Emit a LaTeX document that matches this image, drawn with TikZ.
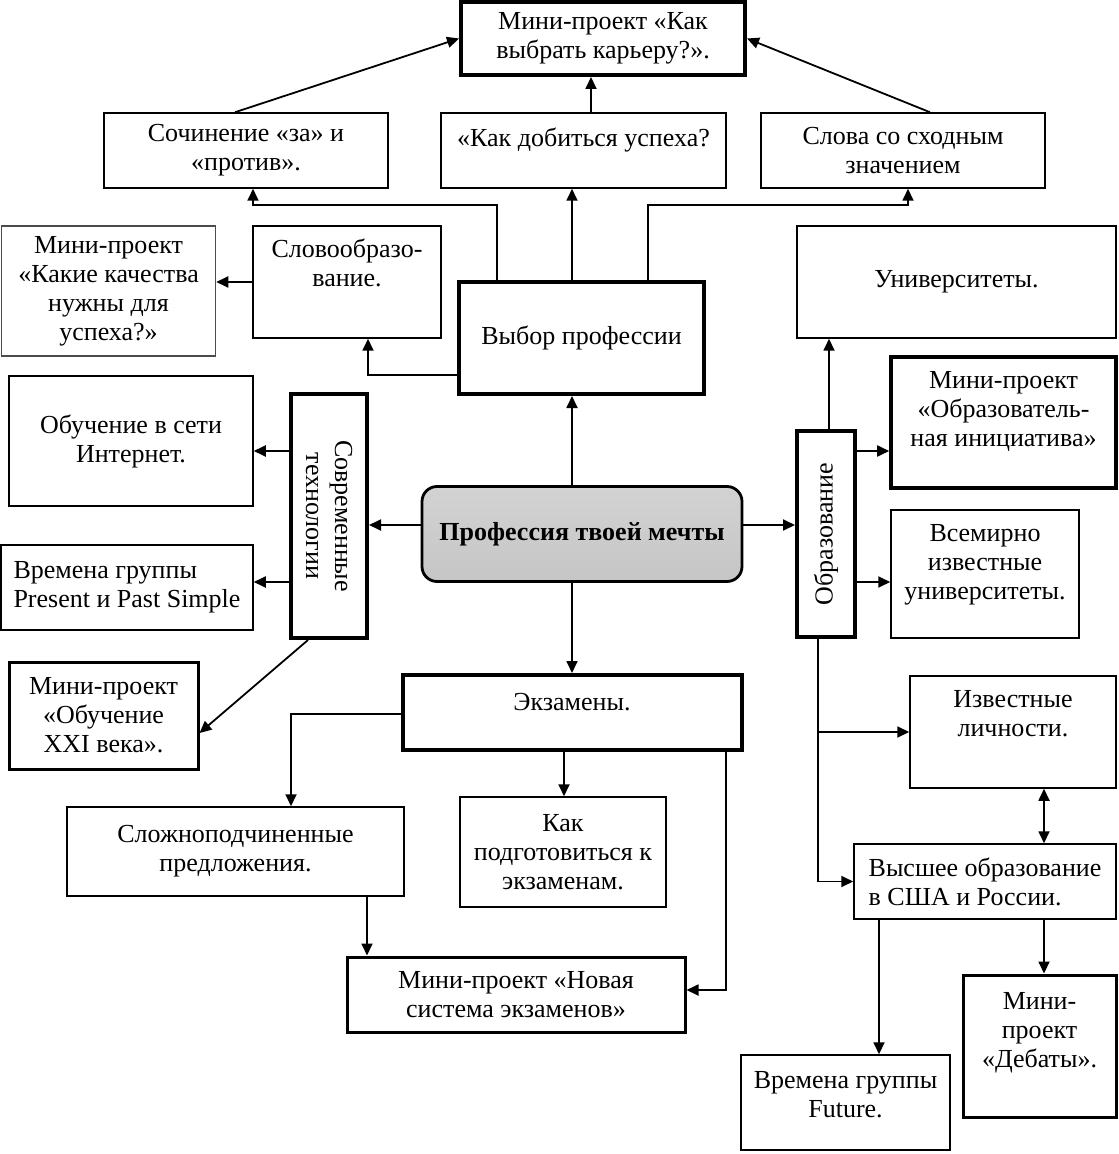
\documentclass[tikz,border=0pt]{standalone}
\usepackage{fontspec}
\setmainfont{Liberation Serif}
\usepackage{tikz}
\usetikzlibrary{arrows.meta}

\begin{document}
\begin{tikzpicture}[%
    x=0.5pt, y=-0.5pt,
    ->,
    >={Triangle[length=6pt,width=5.5pt]},
    line width=0.9pt,
    box/.style={%
      rectangle,
      draw,
      line width=0.75pt,
      inner sep=3pt,
      align=center,
      font=\fontsize{13}{14.5}\selectfont
    },
    midbox/.style={box, line width=1.5pt},
    thickbox/.style={box, line width=2pt},
    mainbox/.style={%
      box,
      rounded corners=7.5pt,
      line width=1.4pt,
      top color=gray!35,
      middle color=gray!5,
      bottom color=gray!45,
      font=\bfseries\fontsize{13}{14.5}\selectfont
    }
  ]
  \useasboundingbox (0,0) rectangle (1118,1154);
  % Nodes: 
    \node[thickbox, minimum width=142pt, minimum height=36.5pt] (karera) at (603,38.5) {Мини-проект «Как\\выбрать карьеру?».};
    \node[box, minimum width=142pt, minimum height=37.5pt] (sochin) at (246,150.5) {Сочинение «за» и\\«против».};
    \node[box, minimum width=142.5pt, minimum height=37.5pt] (uspeh) at (583.5,150.5) {«Как добиться успеха?\\[-6pt]\strut};
    \node[box, minimum width=142pt, minimum height=37.5pt] (slova) at (903,150.5) {Слова со сходным\\значением};
    \node[box, draw=black!70, minimum width=107pt, minimum height=65pt] (kachestva) at (108.5,291) {Мини-проект\\«Какие качества\\нужны для\\успеха?»};
    \node[box, minimum width=94pt, minimum height=56pt] (slovoobr) at (347,282) {Словообразо-\\вание.\\\strut};
    \node[thickbox, minimum width=122.5pt, minimum height=56pt] (vybor) at (581.5,338) {Выбор профессии};
    \node[box, minimum width=159.5pt, minimum height=56pt] (univ) at (956.5,282) {Университеты.};
    \node[box, minimum width=122pt, minimum height=65pt] (internet) at (131,441) {Обучение в сети\\Интернет.};
    \node[thickbox, rotate=-90, minimum width=122pt, minimum height=38pt] (sovrem) at (329,516) {Современные\\технологии};
    \node[mainbox, minimum width=160pt, minimum height=47.5pt] (central) at (582,534) {Профессия твоей мечты};
    \node[thickbox, rotate=90, minimum width=103pt, minimum height=29pt] (obrazov) at (826,534) {Образование};
    \node[midbox, line width=1.8pt, minimum width=112.5pt, minimum height=65.5pt] (initiat) at (1003.5,422.5) {Мини-проект\\«Образователь-\\ная инициатива»\\[-5pt]\strut};
    \node[box, minimum width=94pt, minimum height=64pt] (vsemirno) at (985,574) {Всемирно\\известные\\университеты.\\[-7pt]\strut};
    \node[box, align=left, minimum width=126pt, minimum height=42.5pt] (present) at (127,587.5) {Времена группы\\Present и Past Simple};
    \node[midbox, minimum width=94.5pt, minimum height=53.5pt] (xxi) at (103.5,715.5) {Мини-проект\\«Обучение\\XXI века».};
    \node[thickbox, minimum width=169.5pt, minimum height=37.5pt] (ekz) at (572,712.5) {Экзамены.\\[-8pt]\strut};
    \node[box, minimum width=103pt, minimum height=56pt] (izv) at (1013,732) {Известные\\личности.\\\strut};
    \node[box, minimum width=168.5pt, minimum height=44.5pt] (slozh) at (235.5,851.5) {Сложноподчиненные\\предложения.};
    \node[box, minimum width=103pt, minimum height=55pt] (podg) at (563,852) {Как\\подготовиться к\\экзаменам.};
    \node[box, align=left, minimum width=131pt, minimum height=37.5pt] (vyssh) at (985,881.5) {Высшее образование\\в США и России.};
    \node[midbox, minimum width=169pt, minimum height=37.5pt] (novaya) at (516,994.5) {Мини-проект «Новая\\система экзаменов»};
    \node[midbox, minimum width=76.5pt, minimum height=71pt] (debaty) at (1039.5,1046) {Мини-\\проект\\«Дебаты».\\[-3pt]\strut};
    \node[box, minimum width=104.5pt, minimum height=47.5pt] (future) at (845.5,1102.5) {Времена группы\\Future.\\[-11pt]\strut};
  % Paths: 
    \draw ([xshift=-5.5pt]sochin.north) -- (karera.west);
    \draw ([xshift=3.75pt]uspeh.north) -- ([xshift=-6pt]karera.south);
    \draw ([xshift=13.5pt]slova.north) -- (karera.east);
    \draw ([xshift=-4.75pt]vybor.north) -- ([xshift=-5.75pt]uspeh.south);
    \draw ([xshift=-42.25pt]vybor.north) -- ++(0,-75) -| ([xshift=3.5pt]sochin.south);
    \draw ([xshift=33.25pt]vybor.north) -- ++(0,-75) -| ([xshift=2.5pt]slova.south);
    \draw ([yshift=-18.5pt]vybor.west) -| ([xshift=10.5pt]slovoobr.south);
    \draw (slovoobr.west) -- (slovoobr.west -| kachestva.east);
    \draw ([xshift=-5pt]central.north) -- ([xshift=-4.75pt]vybor.south);
    \draw ([yshift=4.5pt]central.west) -- ([yshift=-4.5pt]sovrem.north);
    \draw ([yshift=4.5pt]central.east) -- ([yshift=4.5pt]obrazov.north);
    \draw ([xshift=-5pt]central.south) -- (ekz.north);
    \draw ([yshift=32.5pt]sovrem.south) -- ([yshift=-5pt]internet.east);
    \draw ([yshift=-33pt]sovrem.south) -- ([yshift=2.75pt]present.east);
    \draw ([xshift=-10.5pt]sovrem.east) -- ([yshift=-8.75pt]xxi.east);
    \draw ([xshift=1.5pt]obrazov.east) -- ([xshift=-63.75pt]univ.south);
    \draw ([yshift=41.5pt]obrazov.south) -- ([yshift=-14.25pt]initiat.west);
    \draw ([yshift=-24pt]obrazov.south) -- ([yshift=-4pt]vsemirno.west);
    \coordinate (obot) at ([xshift=-4pt]obrazov.west);
    \draw (obot) |- (vyssh.west);
    \draw (obot |- izv.west) -- (izv.west);
    \draw[<->] ([xshift=15.5pt]izv.south) -- ([xshift=29.5pt]vyssh.north);
    \draw ([xshift=-53pt]vyssh.south) -- ([xshift=16.75pt]future.north);
    \draw ([xshift=29.5pt]vyssh.south) -- ([xshift=2.25pt]debaty.north);
    \draw ([yshift=-0.75pt]ekz.west) -| ([xshift=27.75pt]slozh.north);
    \draw ([xshift=-4pt]ekz.south) -- ([xshift=0.5pt]podg.north);
    \draw ([xshift=77pt]ekz.south) |- ([yshift=2.25pt]novaya.east);
    \draw ([xshift=65.75pt]slozh.south) -- ([xshift=-74.5pt]novaya.north);
\end{tikzpicture}
\end{document}
